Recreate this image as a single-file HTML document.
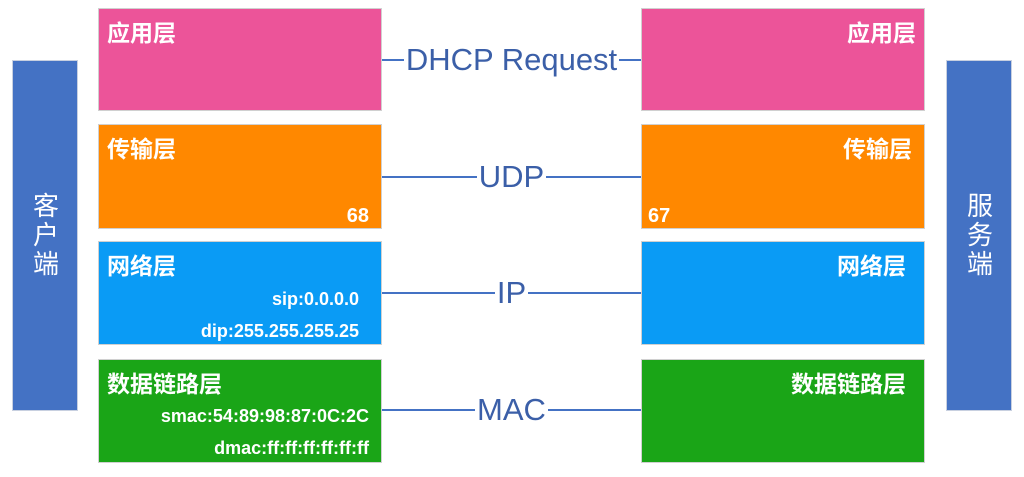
<!DOCTYPE html>
<html><head><meta charset="utf-8"><style>
body{margin:0;width:1024px;height:477px;background:#fff;position:relative;overflow:hidden;font-family:"Liberation Sans","Noto Sans CJK SC",sans-serif}
.b{position:absolute;box-sizing:border-box;border:1px solid #d0d0d0;color:#fff;font-weight:bold}
.t{position:absolute;top:5px;font-size:23px}
.s{position:absolute;font-size:18px;right:22px}
.side{position:absolute;background:#4472C4;border:1px solid #c8d0e0;box-sizing:border-box;color:#fff;font-size:26px;writing-mode:vertical-rl;display:flex;align-items:center;justify-content:center;letter-spacing:3px}
.ln{position:absolute;height:2px;background:#4472C4;left:382px;width:259px}
.lb{position:absolute;left:382px;width:259px;text-align:center;color:#3b5fa8;font-size:31px;line-height:34px}
.lb span{background:#fff;padding:0 2px}
</style></head><body>
<div class="side" style="left:12px;top:60px;width:66px;height:351px">客户端</div>
<div class="side" style="left:946px;top:60px;width:66px;height:351px">服务端</div>

<div class="b" style="left:98px;top:8px;width:284px;height:103px;background:#EC5499"><span class="t" style="left:8px">应用层</span></div>
<div class="b" style="left:641px;top:8px;width:284px;height:103px;background:#EC5499"><span class="t" style="right:8px">应用层</span></div>

<div class="b" style="left:98px;top:124px;width:284px;height:105px;background:#FF8800"><span class="t" style="left:8px">传输层</span><span class="s" style="bottom:0px;font-size:20px;right:12px">68</span></div>
<div class="b" style="left:641px;top:124px;width:284px;height:105px;background:#FF8800"><span class="t" style="right:12px">传输层</span><span class="s" style="bottom:0px;left:6px;right:auto;font-size:20px">67</span></div>

<div class="b" style="left:98px;top:241px;width:284px;height:104px;background:#0A9BF5"><span class="t" style="left:8px">网络层</span><span class="s" style="top:47px">sip:0.0.0.0</span><span class="s" style="top:79px">dip:255.255.255.25</span></div>
<div class="b" style="left:641px;top:241px;width:284px;height:104px;background:#0A9BF5"><span class="t" style="right:18px">网络层</span></div>

<div class="b" style="left:98px;top:359px;width:284px;height:104px;background:#1AA517"><span class="t" style="left:8px">数据链路层</span><span class="s" style="top:46px;right:12px">smac:54:89:98:87:0C:2C</span><span class="s" style="top:78px;right:12px">dmac:ff:ff:ff:ff:ff:ff</span></div>
<div class="b" style="left:641px;top:359px;width:284px;height:104px;background:#1AA517"><span class="t" style="right:18px">数据链路层</span></div>

<div class="ln" style="top:59px"></div><div class="lb" style="top:43px"><span>DHCP Request</span></div>
<div class="ln" style="top:176px"></div><div class="lb" style="top:160px"><span>UDP</span></div>
<div class="ln" style="top:292px"></div><div class="lb" style="top:276px"><span>IP</span></div>
<div class="ln" style="top:409px"></div><div class="lb" style="top:393px"><span>MAC</span></div>
</body></html>
